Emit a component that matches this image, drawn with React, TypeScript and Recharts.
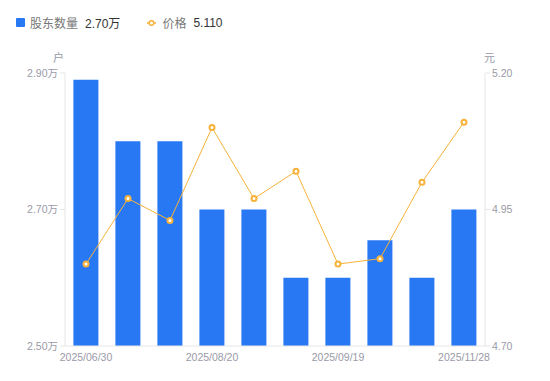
import React from 'react';
import { ComposedChart, Bar, Line, XAxis, YAxis } from 'recharts';

const dates = ['2025/06/30', '2025/07/10', '2025/07/31', '2025/08/20', '2025/08/29', '2025/09/10', '2025/09/19', '2025/10/20', '2025/10/31', '2025/11/28'];
const holders = [2.89, 2.80, 2.80, 2.70, 2.70, 2.60, 2.60, 2.655, 2.60, 2.70];
const prices = [4.85, 4.97, 4.93, 5.10, 4.97, 5.02, 4.85, 4.86, 5.00, 5.11];
const leftTicks = [2.5, 2.7, 2.9];
const rightTicks = [4.7, 4.95, 5.2];

const data = dates.map((d, i) => ({ date: d, holders: holders[i], price: prices[i] }));

const FONT = '"Liberation Sans", "Noto Sans CJK SC", sans-serif';
const BLUE = '#2878f4';
const ORANGE = '#f6b23a';
const GREY = '#9a9aa8';

export default function App() {
  return (
    <div style={{ position: 'absolute', left: 0, top: 0, width: 550, height: 381, fontFamily: FONT }}>
      <div style={{ position: 'absolute', left: 16, top: 14, fontSize: 12, display: 'flex', alignItems: 'center', whiteSpace: 'nowrap' }}>
        <span style={{ display: 'inline-block', width: 9, height: 9, background: BLUE, borderRadius: 1, marginRight: 5 }} />
        <span style={{ color: '#777' }}>股东数量</span>
        <span style={{ color: '#333', marginLeft: 7 }}>2.70万</span>
        <span style={{ display: 'inline-block', width: 27 }} />
        <svg width={9} height={10} style={{ marginRight: 6 }}>
          <line x1={0} y1={5} x2={9} y2={5} stroke={ORANGE} strokeWidth={1.5} />
          <circle cx={4.5} cy={5} r={2.3} fill="#fff" stroke={ORANGE} strokeWidth={1.5} />
        </svg>
        <span style={{ color: '#777' }}>价格</span>
        <span style={{ color: '#333', marginLeft: 7 }}>5.110</span>
      </div>
      <div style={{ position: 'absolute', left: 53, top: 49, fontSize: 11, color: GREY }}>户</div>
      <div style={{ position: 'absolute', left: 484, top: 49, fontSize: 11, color: GREY }}>元</div>
      <ComposedChart
        width={550}
        height={381}
        data={data}
        margin={{ top: 73, right: 0, bottom: 0, left: 0 }}
        barCategoryGap="20%"
      >
        <XAxis
          dataKey="date"
          interval={2}
          tickLine={false}
          axisLine={{ stroke: '#e6e6e6' }}
          tick={{ fill: GREY, fontSize: 10.5, fontFamily: FONT }}
          height={35}
          tickMargin={2}
        />
        <YAxis
          yAxisId="left"
          orientation="left"
          width={65}
          domain={[2.5, 2.9]}
          ticks={leftTicks}
          tickFormatter={(v: number) => v.toFixed(2) + '万'}
          axisLine={{ stroke: '#e6e6e6' }}
          tickLine={{ stroke: '#e6e6e6' }}
          tickSize={5}
          tick={{ fill: GREY, fontSize: 10.5, fontFamily: FONT }}
        />
        <YAxis
          yAxisId="right"
          orientation="right"
          width={65}
          domain={[4.7, 5.2]}
          ticks={rightTicks}
          tickFormatter={(v: number) => v.toFixed(2)}
          axisLine={{ stroke: '#e6e6e6' }}
          tickLine={{ stroke: '#e6e6e6' }}
          tickSize={5}
          tick={{ fill: GREY, fontSize: 10.5, fontFamily: FONT }}
        />
        <Bar yAxisId="left" dataKey="holders" fill={BLUE} isAnimationActive={false} />
        <Line
          yAxisId="right"
          dataKey="price"
          stroke={ORANGE}
          strokeWidth={1}
          dot={{ r: 2.5, fill: '#fff', stroke: ORANGE, strokeWidth: 2 }}
          isAnimationActive={false}
        />
      </ComposedChart>
    </div>
  );
}
